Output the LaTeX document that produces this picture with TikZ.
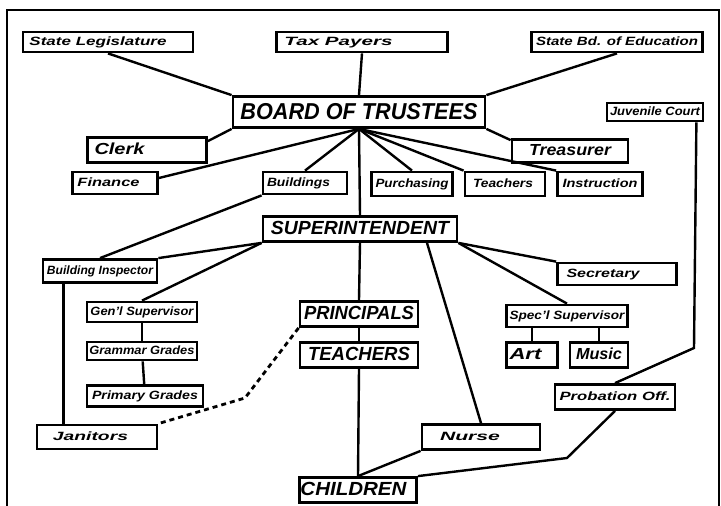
\documentclass[tikz,border=0pt]{standalone}
\usepackage{fontspec}
\setsansfont{Liberation Sans}
\usepackage{graphicx}
\usepackage{tikz}
\usetikzlibrary{positioning, calc}
\tikzset{every node/.style={align=center}}
% stretch a label to the width it has in the chart, optional gap after it
\newcommand{\fitto}[3][0pt]{\resizebox{#2}{\height}{#3}\hspace*{#1}}

\begin{document}
\begin{tikzpicture}[
    x=1pt, y=-1pt,
    box/.style={draw, line width=2.8pt, fill=white, inner sep=1pt,
                text height=9pt, text depth=2.5pt,
                font=\sffamily\bfseries\itshape\fontsize{12}{13}\selectfont},
    midbox/.style={box, text height=12pt, text depth=3pt,
                font=\sffamily\bfseries\itshape\fontsize{16}{17}\selectfont},
    bigbox/.style={box, text height=14pt, text depth=2.5pt,
                font=\sffamily\bfseries\itshape\fontsize{19}{20}\selectfont},
    hugebox/.style={box, text height=17pt, text depth=3pt,
                font=\sffamily\bfseries\itshape\fontsize{23}{24}\selectfont},
    link/.style={line width=2.4pt},
    dotlink/.style={line width=2.8pt, dash pattern=on 5pt off 4pt, line join=round}
]
  \useasboundingbox (0,0) rectangle (721,506);
  % Frame
  \draw[line width=1.8pt] (7,520) -- (7,10) -- (719,10) -- (719,520);
  % Board level
  \node (legis)  at (108,42)  [box, minimum width=170pt, minimum height=20pt] {\fitto[20pt]{137pt}{State Legislature}};
  \node (tax)    at (362,42)  [box, minimum width=171pt, minimum height=20pt] {\fitto[47pt]{108pt}{Tax Payers}};
  \node (statebd) at (617,42) [box, minimum width=171pt, minimum height=20pt] {\fitto{162pt}{State Bd. of Education}};
  \node (board)  at (359,112) [hugebox, minimum width=252pt, minimum height=31pt] {\fitto{237pt}{BOARD OF TRUSTEES}};
  \node (juvenile) at (655,112) [box, minimum width=96pt, minimum height=18pt] {\fitto{90pt}{Juvenile Court}};
  \node (clerk)  at (147,150) [midbox, minimum width=119pt, minimum height=25pt] {\fitto[55pt]{50pt}{Clerk}};
  \node (treas)  at (570,151) [midbox, minimum width=116pt, minimum height=23pt] {\fitto{82pt}{Treasurer}};
  \node (finance) at (115,183) [box, minimum width=85pt, minimum height=22pt] {\fitto[13pt]{62pt}{Finance}};
  \node (bldgs)  at (305,183) [box, minimum width=84pt, minimum height=22pt] {\fitto[13pt]{63pt}{Buildings}};
  \node (purch)  at (412,184) [box, minimum width=81pt, minimum height=24pt] {\fitto{73pt}{Purchasing}};
  \node (teachb) at (505,184) [box, minimum width=80pt, minimum height=24pt] {\fitto[4pt]{60pt}{Teachers}};
  \node (instr)  at (600,184) [box, minimum width=85pt, minimum height=24pt] {\fitto{75pt}{Instruction}};
  % Superintendent level
  \node (supt)   at (360,229) [bigbox, minimum width=194pt, minimum height=25pt] {\fitto{178pt}{SUPERINTENDENT}};
  \node (inspect) at (100,271) [box, minimum width=114pt, minimum height=23pt] {\fitto{106pt}{Building Inspector}};
  \node (secr)   at (617,274) [box, minimum width=119pt, minimum height=22pt] {\fitto[28pt]{73pt}{Secretary}};
  \node (gensup) at (142,312) [box, minimum width=110pt, minimum height=20pt] {\fitto{103pt}{Gen'l Supervisor}};
  \node (princ)  at (359,314) [bigbox, minimum width=118pt, minimum height=25pt] {\fitto{110pt}{PRINCIPALS}};
  \node (specsup) at (567,316) [box, minimum width=121pt, minimum height=22pt] {\fitto{115pt}{Spec'l Supervisor}};
  \node (grammar) at (142,351) [box, minimum width=110pt, minimum height=18pt] {\fitto{105pt}{Grammar Grades}};
  \node (teach)  at (359,355) [bigbox, minimum width=118pt, minimum height=25pt] {\fitto{102pt}{TEACHERS}};
  \node (art)    at (532,355) [midbox, minimum width=51pt, minimum height=25pt] {\fitto[13pt]{32pt}{Art}};
  \node (music)  at (599,355) [midbox, minimum width=58pt, minimum height=25pt] {\fitto{46pt}{Music}};
  \node (primary) at (145,396) [box, minimum width=116pt, minimum height=21pt] {\fitto{106pt}{Primary Grades}};
  \node (probat) at (615,397) [box, minimum width=120pt, minimum height=25pt] {\fitto{111pt}{Probation Off.}};
  \node (janit)  at (97,437)  [box, minimum width=120pt, minimum height=24pt] {\fitto[13pt]{75pt}{Janitors}};
  \node (nurse)  at (481,437) [box, minimum width=118pt, minimum height=25pt] {\fitto[22pt]{60pt}{Nurse}};
  \node (child)  at (358,490) [bigbox, minimum width=117pt, minimum height=25pt] {\fitto[9pt]{106pt}{CHILDREN}};
  \coordinate (jbend) at (694,348);
  \coordinate (pbend) at (567,458);
  \coordinate (dbend) at (245,398);
  % Connectors
  \draw[link] (legis.south) -- (board.north west);
  \draw[link] (tax.south) -- (board.north);
  \draw[link] (statebd.south) -- (board.north east);
  \draw[link] ([yshift=-5pt]clerk.north east) -- (board.south west);
  \draw[link] ([yshift=-2pt]treas.north west) -- (board.south east);
  \draw[link] ([yshift=5pt]finance.east) -- (board.south);
  \draw[link] (bldgs.north) -- (board.south);
  \draw[link] (purch.north) -- (board.south);
  \draw[link] (teachb.north west) -- (board.south);
  \draw[link] (instr.north west) -- (board.south);
  \draw[link] (board.south) -- (supt.north);
  \draw[link] (bldgs.south west) -- (inspect.north);
  \draw[link] (supt.south west) -- (inspect.north east);
  \draw[link] (supt.south west) -- (gensup.north);
  \draw[link] (gensup) -- (grammar);
  \draw[link] (grammar) -- (primary);
  \draw[link] ([xshift=22pt]inspect.south west) -- ([xshift=22pt]inspect.south west |- janit.north);
  \draw[link] (supt.south) -- (princ.north);
  \draw[link] (princ) -- (teach);
  \draw[link] (teach.south) -- (child.north);
  \draw[link] ([xshift=67pt]supt.south) -- (nurse.north);
  \draw[link] (supt.south east) -- (secr.north west);
  \draw[link] (supt.south east) -- (specsup.north);
  \draw[link] (art.north |- specsup.south) -- (art.north);
  \draw[link] (music.north |- specsup.south) -- (music.north);
  \draw[link] ([xshift=-8pt]juvenile.south east) -- (jbend) -- (probat.north);
  \draw[link] (probat.south) -- (pbend) -- (child.north east);
  \draw[link] (nurse.south west) -- (child.north);
  \draw[dotlink] (princ.south west) -- (dbend) -- (janit.north east);
\end{tikzpicture}
\end{document}
